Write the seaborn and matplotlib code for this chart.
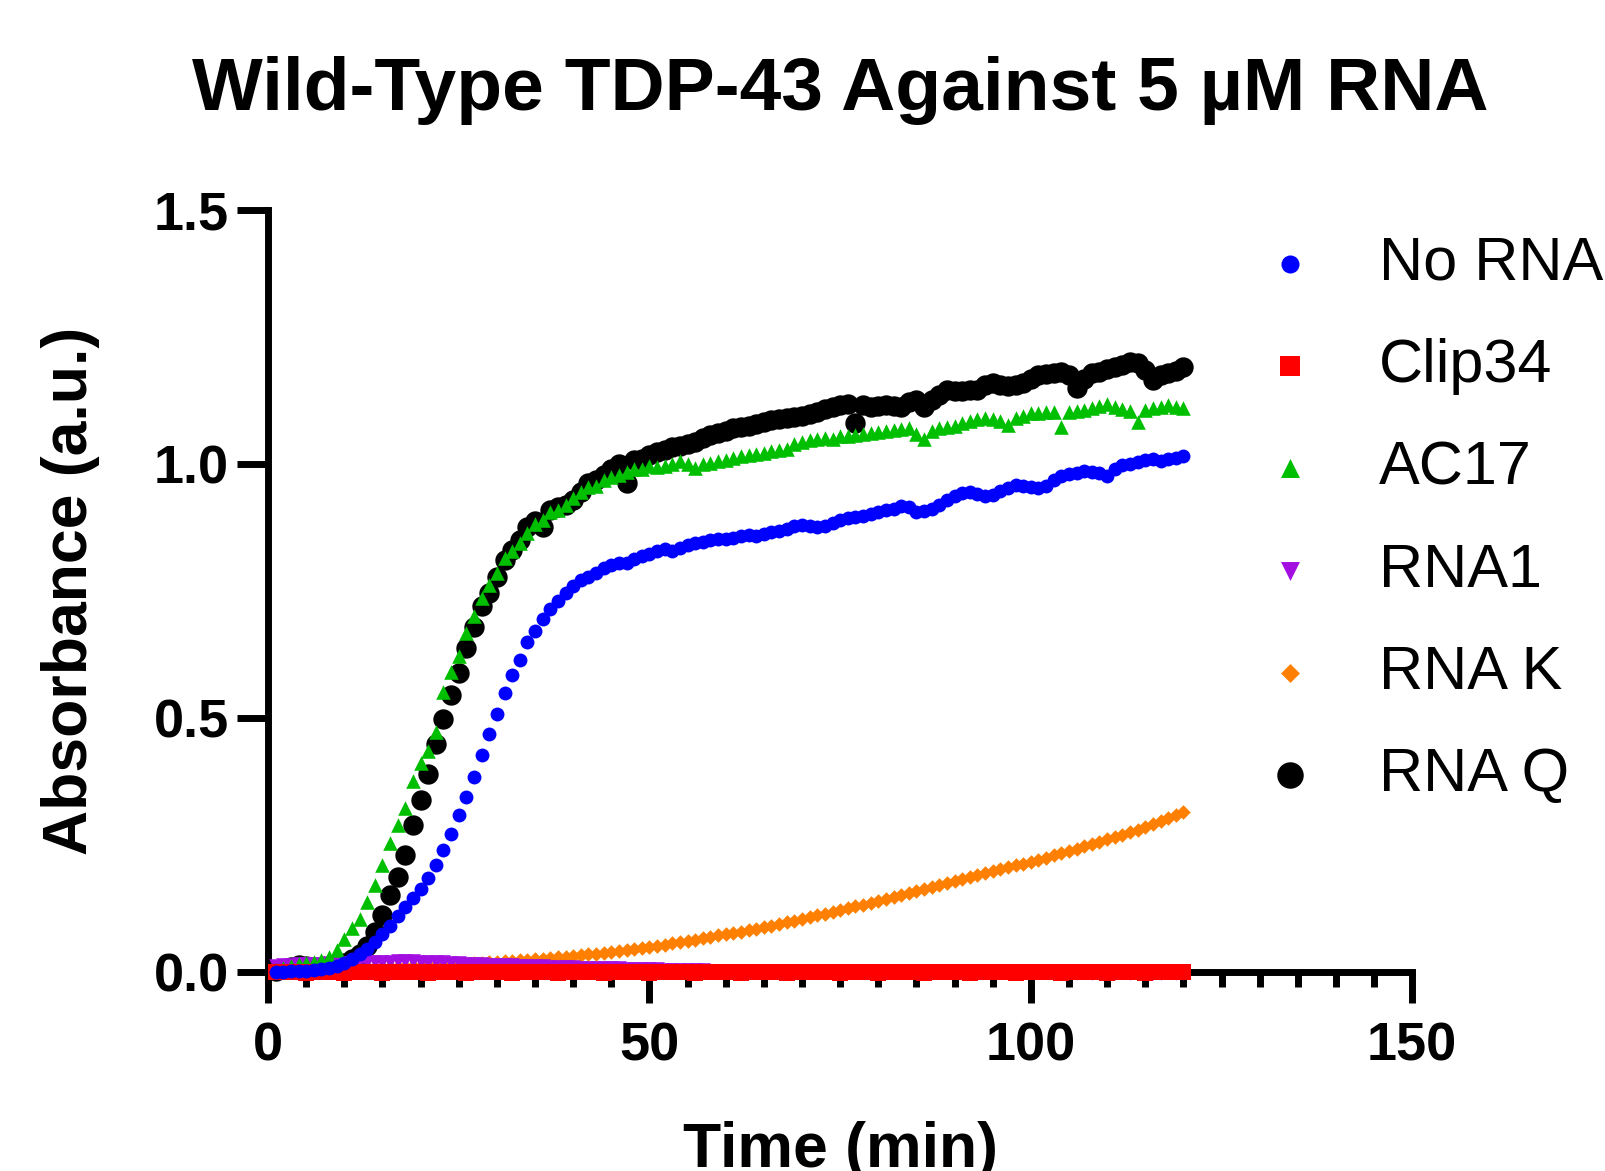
import numpy as np
import matplotlib
matplotlib.use("Agg")
import matplotlib.pyplot as plt
import seaborn as sns
from matplotlib.ticker import FixedLocator, MultipleLocator, FormatStrFormatter

# ---------------- data ----------------
time_min = np.arange(1, 121)

no_rna = [
    0.000, 0.001, 0.002, 0.003, 0.003, 0.004, 0.006, 0.009, 0.013, 0.019,
    0.027, 0.036, 0.047, 0.060, 0.075, 0.092, 0.110, 0.128, 0.146, 0.165,
    0.186, 0.211, 0.240, 0.273, 0.309, 0.345, 0.385, 0.428, 0.468, 0.509,
    0.549, 0.585, 0.615, 0.649, 0.671, 0.695, 0.714, 0.731, 0.746, 0.760,
    0.772, 0.778, 0.786, 0.796, 0.801, 0.805, 0.806, 0.814, 0.820, 0.824,
    0.828, 0.833, 0.829, 0.834, 0.840, 0.844, 0.847, 0.851, 0.853, 0.852,
    0.855, 0.858, 0.860, 0.858, 0.862, 0.866, 0.868, 0.872, 0.878, 0.881,
    0.879, 0.876, 0.878, 0.884, 0.889, 0.893, 0.896, 0.898, 0.902, 0.906,
    0.909, 0.912, 0.917, 0.915, 0.906, 0.908, 0.912, 0.920, 0.930, 0.938,
    0.943, 0.945, 0.941, 0.938, 0.940, 0.946, 0.953, 0.958, 0.957, 0.954,
    0.953, 0.957, 0.968, 0.977, 0.981, 0.983, 0.986, 0.984, 0.982, 0.976,
    0.990, 0.998, 1.000, 1.004, 1.008, 1.010, 1.006, 1.009, 1.012, 1.015,
]

clip34 = [
    0.001, 0.000, 0.001, 0.000, -0.001, 0.000, 0.001, 0.000, 0.000, -0.001,
    0.000, 0.001, 0.000, 0.000, -0.001, 0.000, 0.000, 0.001, 0.000, 0.000,
    -0.001, 0.000, 0.000, 0.001, 0.000, -0.001, 0.000, 0.000, 0.001, 0.000,
    0.000, -0.001, 0.000, 0.000, 0.001, 0.000, 0.000, -0.001, 0.000, 0.000,
    0.001, 0.000, 0.000, -0.001, 0.000, 0.000, 0.000, 0.001, 0.000, -0.001,
    0.000, 0.000, 0.001, 0.000, 0.000, -0.001, 0.000, 0.000, 0.000, 0.001,
    0.000, -0.001, 0.000, 0.000, 0.001, 0.000, 0.000, -0.001, 0.000, 0.000,
    0.001, 0.000, 0.000, 0.000, -0.001, 0.000, 0.001, 0.000, 0.000, -0.001,
    0.000, 0.000, 0.001, 0.000, 0.000, -0.001, 0.000, 0.000, 0.001, 0.000,
    0.000, -0.001, 0.000, 0.000, 0.000, 0.001, 0.000, -0.001, 0.000, 0.000,
    0.001, 0.000, 0.000, -0.001, 0.000, 0.000, 0.001, 0.000, 0.000, -0.001,
    0.000, 0.000, 0.001, 0.000, -0.001, 0.000, 0.000, 0.001, 0.000, 0.000,
]

ac17 = [
    0.004, 0.008, 0.012, 0.016, 0.018, 0.020, 0.024, 0.031, 0.045, 0.066,
    0.087, 0.106, 0.139, 0.172, 0.211, 0.255, 0.290, 0.323, 0.376, 0.412,
    0.436, 0.473, 0.552, 0.590, 0.622, 0.667, 0.701, 0.736, 0.762, 0.785,
    0.815, 0.828, 0.844, 0.864, 0.883, 0.890, 0.906, 0.910, 0.919, 0.933,
    0.945, 0.955, 0.956, 0.968, 0.975, 0.978, 0.984, 0.990, 0.990, 0.996,
    0.995, 0.997, 1.000, 1.005, 1.000, 0.993, 1.000, 1.003, 1.006, 1.008,
    1.012, 1.015, 1.018, 1.020, 1.022, 1.025, 1.027, 1.030, 1.040, 1.044,
    1.048, 1.050, 1.052, 1.050, 1.055, 1.056, 1.057, 1.060, 1.062, 1.063,
    1.064, 1.066, 1.068, 1.070, 1.060, 1.050, 1.065, 1.070, 1.073, 1.075,
    1.080, 1.084, 1.088, 1.090, 1.088, 1.085, 1.077, 1.090, 1.095, 1.100,
    1.101, 1.102, 1.103, 1.072, 1.103, 1.104, 1.106, 1.110, 1.115, 1.118,
    1.113, 1.108, 1.105, 1.082, 1.106, 1.110, 1.113, 1.117, 1.113, 1.110,
]

rna1 = [
    0.013, 0.014, 0.015, 0.016, 0.016, 0.017, 0.017, 0.018, 0.018, 0.019,
    0.019, 0.020, 0.020, 0.020, 0.021, 0.021, 0.022, 0.022, 0.022, 0.021,
    0.021, 0.020, 0.020, 0.019, 0.018, 0.017, 0.017, 0.016, 0.015, 0.015,
    0.014, 0.014, 0.013, 0.013, 0.012, 0.012, 0.011, 0.011, 0.010, 0.010,
    0.009, 0.009, 0.009, 0.008, 0.008, 0.008, 0.007, 0.007, 0.006, 0.006,
    0.006, 0.005, 0.005, 0.005, 0.004, 0.004, 0.004, 0.003, 0.003, 0.003,
    0.003, 0.002, 0.003, 0.002, 0.002, 0.003, 0.002, 0.002, 0.001, 0.002,
    0.002, 0.001, 0.002, 0.002, 0.001, 0.001, 0.002, 0.001, 0.001, 0.002,
    0.001, 0.001, 0.002, 0.001, 0.001, 0.001, 0.000, 0.001, 0.001, 0.000,
    0.001, 0.000, 0.001, 0.000, 0.000, 0.001, 0.000, 0.000, 0.001, 0.000,
    0.000, 0.000, -0.001, 0.000, 0.000, -0.001, 0.000, -0.001, 0.000, 0.000,
    -0.001, 0.000, -0.001, -0.001, 0.000, -0.001, -0.001, 0.000, -0.001, -0.001,
]

rna_k = [
    0.004, 0.004, 0.005, 0.005, 0.005, 0.006, 0.006, 0.006, 0.007, 0.007,
    0.008, 0.008, 0.009, 0.009, 0.010, 0.010, 0.011, 0.011, 0.012, 0.012,
    0.013, 0.014, 0.014, 0.015, 0.016, 0.017, 0.018, 0.019, 0.020, 0.021,
    0.022, 0.023, 0.024, 0.025, 0.026, 0.027, 0.028, 0.030, 0.031, 0.033,
    0.034, 0.036, 0.037, 0.039, 0.040, 0.042, 0.044, 0.046, 0.048, 0.050,
    0.052, 0.054, 0.057, 0.059, 0.062, 0.064, 0.067, 0.070, 0.073, 0.076,
    0.078, 0.080, 0.083, 0.086, 0.089, 0.092, 0.095, 0.099, 0.102, 0.106,
    0.109, 0.112, 0.115, 0.119, 0.122, 0.126, 0.130, 0.133, 0.137, 0.141,
    0.144, 0.148, 0.152, 0.156, 0.160, 0.164, 0.168, 0.172, 0.176, 0.180,
    0.183, 0.187, 0.191, 0.195, 0.199, 0.203, 0.207, 0.211, 0.214, 0.218,
    0.222, 0.226, 0.230, 0.235, 0.239, 0.243, 0.248, 0.252, 0.257, 0.262,
    0.266, 0.271, 0.276, 0.281, 0.286, 0.292, 0.297, 0.303, 0.309, 0.316,
]

rna_q = [
    0.003, 0.006, 0.010, 0.014, 0.012, 0.008, 0.006, 0.008, 0.012, 0.018,
    0.026, 0.036, 0.052, 0.080, 0.113, 0.152, 0.188, 0.231, 0.290, 0.340,
    0.390, 0.450, 0.498, 0.546, 0.588, 0.638, 0.680, 0.720, 0.746, 0.778,
    0.811, 0.831, 0.851, 0.877, 0.887, 0.877, 0.910, 0.916, 0.919, 0.930,
    0.945, 0.962, 0.968, 0.978, 0.990, 1.000, 0.962, 1.008, 1.010, 1.018,
    1.023, 1.027, 1.033, 1.036, 1.040, 1.044, 1.052, 1.058, 1.062, 1.065,
    1.070, 1.073, 1.075, 1.078, 1.082, 1.086, 1.088, 1.090, 1.092, 1.095,
    1.098, 1.102, 1.108, 1.112, 1.116, 1.118, 1.080, 1.117, 1.113, 1.114,
    1.116, 1.115, 1.113, 1.122, 1.126, 1.113, 1.125, 1.135, 1.145, 1.143,
    1.144, 1.145, 1.145, 1.155, 1.160, 1.156, 1.154, 1.155, 1.160, 1.168,
    1.176, 1.178, 1.180, 1.182, 1.175, 1.150, 1.168, 1.180, 1.182, 1.186,
    1.191, 1.195, 1.200, 1.198, 1.185, 1.165, 1.175, 1.180, 1.183, 1.190,
]

series_names = ["No RNA", "Clip34", "AC17", "RNA1", "RNA K", "RNA Q"]
series_values = [no_rna, clip34, ac17, rna1, rna_k, rna_q]
x_ticks = [0, 50, 100, 150]
y_ticks = [0.0, 0.5, 1.0, 1.5]

# ---------------- style ----------------
colors = ["#0000FF", "#FF0000", "#00BF00", "#A30FE0", "#FF8000", "#000000"]
markers = ["o", "s", "^", "v", "D", "o"]
sizes = [100, 125, 110, 110, 55, 215]

sns.set_theme(style="ticks")
plt.rcParams["font.family"] = ["Liberation Sans", "DejaVu Sans"]
plt.rcParams["text.color"] = "black"
plt.rcParams["axes.labelcolor"] = "black"
plt.rcParams["xtick.color"] = "black"
plt.rcParams["ytick.color"] = "black"
plt.rcParams["axes.edgecolor"] = "black"

fig = plt.figure(figsize=(16.05, 11.71), dpi=100)
ax = fig.add_axes([0.1670, 0.1696, 0.7129, 0.6512])

n = len(series_names)
for i in reversed(range(n)):
    sns.scatterplot(x=time_min, y=series_values[i], color=colors[i],
                    marker=markers[i], s=sizes[i], linewidth=0,
                    label=series_names[i], ax=ax, zorder=3 + (n - i),
                    clip_on=False)

ax.set_xlim(0, 150)
ax.set_ylim(0, 1.5)
ax.xaxis.set_major_locator(FixedLocator(x_ticks))
ax.xaxis.set_minor_locator(MultipleLocator(5))
ax.yaxis.set_major_locator(FixedLocator(y_ticks))
ax.yaxis.set_major_formatter(FormatStrFormatter("%.1f"))

for s in ["top", "right"]:
    ax.spines[s].set_visible(False)
for s in ["left", "bottom"]:
    ax.spines[s].set_linewidth(5)
    ax.spines[s].set_color("black")

ax.tick_params(axis="x", which="major", direction="out", length=22, width=5,
               labelsize=39, pad=13, color="black", labelcolor="black")
ax.tick_params(axis="x", which="minor", direction="out", length=11, width=5,
               color="black")
ax.tick_params(axis="y", which="major", direction="out", length=22, width=5,
               labelsize=39, pad=6, color="black", labelcolor="black")
for lbl in ax.get_xticklabels() + ax.get_yticklabels():
    lbl.set_fontfamily(["Liberation Sans"])
    lbl.set_fontweight("bold")

ax.set_xlabel("Time (min)", fontsize=45, fontweight="bold", color="black")
ax.xaxis.set_label_coords(0.5, -0.195)
ax.set_ylabel("Absorbance (a.u.)", fontsize=45, fontweight="bold", color="black")
ax.yaxis.label.set_verticalalignment("center")
ax.yaxis.set_label_coords(-0.173, 0.5)

ax.set_title("Wild-Type TDP-43 Against 5 µM RNA", fontsize=54,
             fontweight="bold", y=1.1309, va="baseline", pad=0, color="black")

handles, labels = ax.get_legend_handles_labels()
leg = ax.legend(handles[::-1], labels[::-1], loc="upper left",
                bbox_to_anchor=(1259.5 / 1605, 1 - 236 / 1171),
                bbox_transform=fig.transFigure, frameon=False, fontsize=44,
                handlelength=1.0, handletextpad=0.96, labelspacing=0.74,
                borderpad=0, borderaxespad=0, markerscale=1.3)
for t in leg.get_texts():
    t.set_color("black")

fig.savefig("out.png", dpi=100)
